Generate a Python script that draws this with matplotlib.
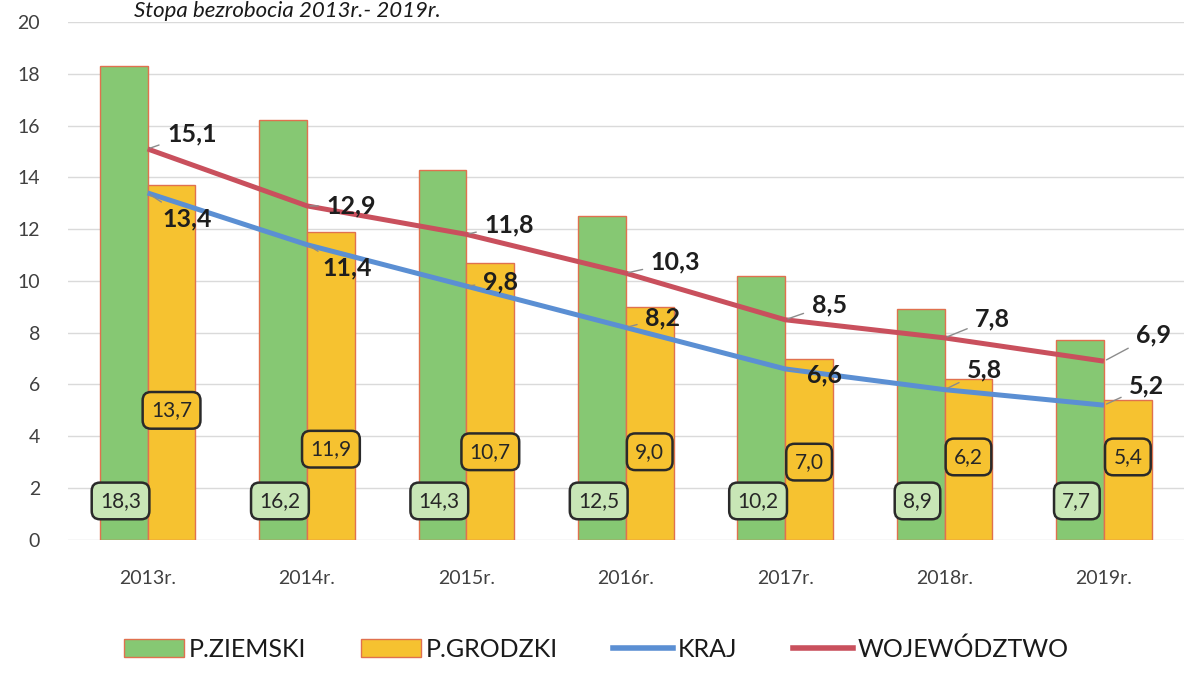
import matplotlib
matplotlib.use("Agg")
import matplotlib.pyplot as plt
import matplotlib.patches as mpatches
import matplotlib.lines as mlines
import numpy as np

plt.rcParams['font.family'] = ['Lato', 'DejaVu Sans']

years = ["2013r.", "2014r.", "2015r.", "2016r.", "2017r.", "2018r.", "2019r."]
p_ziemski = [18.3, 16.2, 14.3, 12.5, 10.2, 8.9, 7.7]
p_grodzki = [13.7, 11.9, 10.7, 9.0, 7.0, 6.2, 5.4]
kraj = [13.4, 11.4, 9.8, 8.2, 6.6, 5.8, 5.2]
wojewodztwo = [15.1, 12.9, 11.8, 10.3, 8.5, 7.8, 6.9]

# where the label boxes sit (data units) and line-label offsets (points)
green_lab_y = [1.5, 1.5, 1.5, 1.5, 1.5, 1.5, 1.5]
yellow_lab_y = [5.0, 3.5, 3.4, 3.4, 3.0, 3.2, 3.2]
woj_off = [(14, 11), (14, 0), (13, 7), (18, 8), (19, 11), (22, 14), (23, 19)]
kraj_off = [(11, -19), (11, -17), (12, 3), (14, 7), (16, -4), (16, 14), (18, 14)]

green = "#86c873"
yellow = "#f6c230"
edge = "#e0714f"
blue = "#5b8fd3"
red = "#c9505d"

fig = plt.figure(figsize=(11.92, 6.92), dpi=100)
ax = fig.add_axes([0.057, 0.22, 0.936, 0.748])

x = np.arange(len(years))
w = 0.30
ax.bar(x - w / 2, p_ziemski, w, color=green, edgecolor=edge, linewidth=1, zorder=2)
ax.bar(x + w / 2, p_grodzki, w, color=yellow, edgecolor=edge, linewidth=1, zorder=2)

ax.plot(x, kraj, color=blue, lw=3.6, solid_capstyle='butt', solid_joinstyle='round', zorder=3)
ax.plot(x, wojewodztwo, color=red, lw=3.6, solid_capstyle='butt', solid_joinstyle='round', zorder=3)

def fmt(v):
    return f"{v:.1f}".replace(".", ",")

for i in range(len(years)):
    ax.text(x[i] - w / 2 - 0.02, green_lab_y[i], fmt(p_ziemski[i]), ha='center', va='center',
            fontsize=15, color="#262626", zorder=5,
            bbox=dict(boxstyle="round,pad=0.4,rounding_size=0.4", fc="#c8e6b6", ec="#2a2a2a", lw=1.8))
    ax.text(x[i] + w / 2, yellow_lab_y[i], fmt(p_grodzki[i]), ha='center', va='center',
            fontsize=15, color="#262626", zorder=5,
            bbox=dict(boxstyle="round,pad=0.4,rounding_size=0.4", fc=yellow, ec="#2a2a2a", lw=1.8))
    ax.annotate(fmt(wojewodztwo[i]), (x[i], wojewodztwo[i]), xytext=woj_off[i],
                textcoords='offset points', ha='left', va='center', fontsize=18,
                fontweight='bold', color="#1e1e1e", zorder=6,
                arrowprops=dict(arrowstyle='-', color="#8c8c8c", lw=1, shrinkA=4, shrinkB=2))
    ax.annotate(fmt(kraj[i]), (x[i], kraj[i]), xytext=kraj_off[i],
                textcoords='offset points', ha='left', va='center', fontsize=18,
                fontweight='bold', color="#1e1e1e", zorder=6,
                arrowprops=dict(arrowstyle='-', color="#8c8c8c", lw=1, shrinkA=4, shrinkB=2))

ax.set_xlim(-0.5, len(years) - 0.5)
ax.set_ylim(0, 20)
ax.set_yticks(np.arange(0, 21, 2))
ax.set_xticks(x)
ax.set_xticklabels(years)
ax.tick_params(axis='both', length=0, labelsize=14, colors="#404040")
ax.tick_params(axis='x', pad=22)
ax.tick_params(axis='y', pad=20)
for s in ax.spines.values():
    s.set_visible(False)
ax.grid(axis='y', color="#dadada", lw=1)
ax.set_axisbelow(True)

fig.text(0.37, 0.975, "Stopa bezrobocia 2013r.- 2019r.", ha='right', va='baseline',
         fontsize=16, style='italic', color="#1a1a1a")

handles = [
    mpatches.Patch(facecolor=green, edgecolor=edge, label="P.ZIEMSKI"),
    mpatches.Patch(facecolor=yellow, edgecolor=edge, label="P.GRODZKI"),
    mlines.Line2D([], [], color=blue, lw=4, label="KRAJ"),
    mlines.Line2D([], [], color=red, lw=4, label="WOJEWÓDZTWO"),
]
fig.legend(handles=handles, loc='center', bbox_to_anchor=(0.5, 0.062), ncol=4,
           frameon=False, fontsize=18, handlelength=2.4, handletextpad=0.2,
           columnspacing=2.2, labelcolor="#1a1a1a")

plt.savefig("out.png", dpi=100)
